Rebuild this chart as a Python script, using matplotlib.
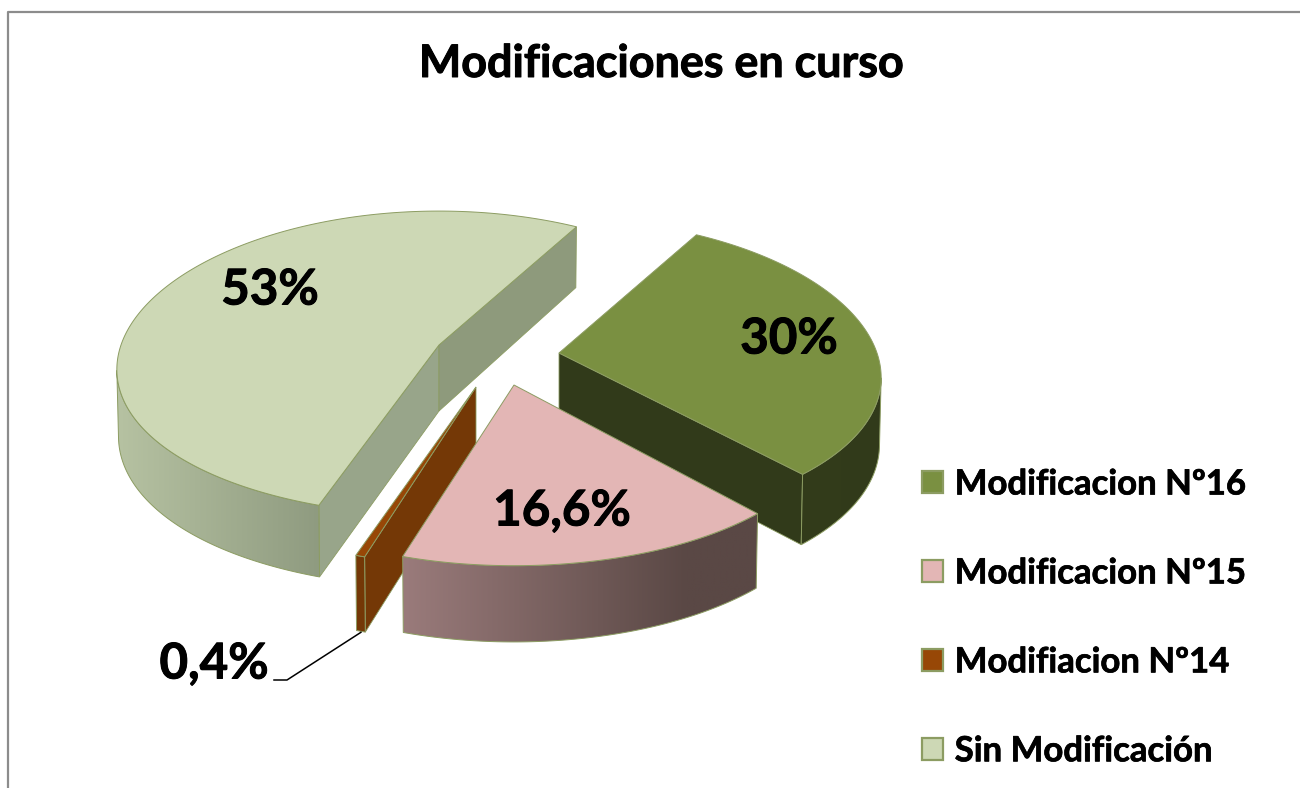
import matplotlib
matplotlib.use('Agg')
import matplotlib.pyplot as plt
import matplotlib.patheffects as pe
import numpy as np
from matplotlib.colors import to_rgb
from matplotlib.patches import Patch, Polygon

plt.rcParams['font.family'] = ['Lato', 'DejaVu Sans']
plt.rcParams['font.weight'] = 'bold'

title = 'Modificaciones en curso'
names = ['Modificacion Nº16', 'Modificacion Nº15', 'Modifiacion Nº14', 'Sin Modificación']
values = [30, 16.6, 0.4, 53]
value_labels = ['30%', '16,6%', '0,4%', '53%']

top_colors = ['#7A9041', '#E3B6B5', '#974706', '#CDD8B5']
radial_colors = ['#313A1A', '#5A4644', '#743806', '#98A58A']
second_radial = '#8E9A7C'
wall_left = ['#333C1B', '#9A7B7B', '#743806', '#B6C2A2']
wall_right = ['#313A1A', '#5A4845', '#743806', '#8F9B80']
wall_span = [1.0, 0.8, 1.0, 1.0]
edge_color = '#8C9C62'

# screen position of each slice's apex (explosion) and how near it looks
apex = [(559, 353), (514, 385), (476, 387), (439, 345)]
near = [1.0, 1.06, 1.05, 1.0]
label_pos = [(789, 339), (562, 511), (214, 664), (270, 290)]
start_angle = 29.5  # clockwise from the back of the pie

RX, RY, KX, KY, DEPTH, DEPTH_PERSP = 318, 150, 0.16, 0.12, 66, 0.005


def project(i, theta, z=0.0):
    # theta in degrees, clockwise seen from above, 0 is the far side
    u = np.sin(np.radians(theta))
    v = -np.cos(np.radians(theta))
    x = RX * u / (1 - KX * v + DEPTH_PERSP * z)
    y = RY * near[i] * v / (1 - KY * v)
    d = DEPTH * near[i] * (1 + 0.09 * v) * z
    return apex[i][0] + x, apex[i][1] + y + d


def draw_slice(ax, i, t0, t1):
    c = apex[i]
    bottom_c = (c[0], c[1] + DEPTH * near[i])

    # radial cut faces that look towards the viewer
    for edge, normal in [(t0, t0 - 90), (t1, t1 + 90)]:
        if -np.cos(np.radians(normal)) > 0:
            col = radial_colors[i]
            if i == 3 and edge == t1:
                col = second_radial
            p = [c, project(i, edge), project(i, edge, 1), bottom_c]
            ax.add_patch(Polygon(p, fc=col, ec=edge_color, lw=0.6))

    # outer wall with a horizontal gradient, clipped to its outline;
    # it runs between the left and right extremes of the rim
    circle = np.arange(0, 360, 0.25)
    cx, _ = project(i, circle)
    right_t, left_t = circle[np.argmax(cx)], circle[np.argmin(cx)]
    grid = np.linspace(t0, t1, max(int((t1 - t0) * 2), 2))
    grid = grid[(grid % 360 >= right_t) & (grid % 360 <= left_t)]
    if len(grid) > 1:
        xt, yt = project(i, grid)
        xb, yb = project(i, grid, 1)
        outline = np.vstack([np.column_stack([xt, yt]), np.column_stack([xb, yb])[::-1]])
        left, right = np.array(to_rgb(wall_left[i])), np.array(to_rgb(wall_right[i]))
        f = np.clip(np.linspace(0, 1, 256) / wall_span[i], 0, 1)[None, :, None]
        grad = left + (right - left) * f
        x0, x1 = min(xt.min(), xb.min()), max(xt.max(), xb.max())
        im = ax.imshow(grad, extent=(x0, x1, yb.max() + 2, yt.min() - 2), aspect='auto',
                       interpolation='bilinear', zorder=1)
        wall = Polygon(outline, fc='none', ec=edge_color, lw=0.7, zorder=1)
        ax.add_patch(wall)
        im.set_clip_path(wall)

    # top face
    t = np.linspace(t0, t1, max(int((t1 - t0) * 2), 2))
    x, y = project(i, t)
    top = np.vstack([[c], np.column_stack([x, y])])
    ax.add_patch(Polygon(top, fc=top_colors[i], ec=edge_color, lw=0.7, zorder=1))


fig = plt.figure(figsize=(13, 7.88), dpi=100)
ax = fig.add_axes([0, 0, 1, 1])
ax.axis('off')

# chart frame
ax.plot([8, 8, 1300], [788, 12, 12], color='#8C8C8C', lw=1.6)

sweep = np.array(values) / sum(values) * 360
starts = start_angle + np.concatenate([[0], np.cumsum(sweep)[:-1]])

# painter's order: back slice first, pink goes over brown and green
for i in [3, 0, 2, 1]:
    draw_slice(ax, i, starts[i], starts[i] + sweep[i])

ax.set_xlim(0, 1300)
ax.set_ylim(788, 0)

heavy = [pe.withStroke(linewidth=0.7, foreground='black')]

for i, lab in enumerate(value_labels):
    ax.text(label_pos[i][0], label_pos[i][1], lab, fontsize=35.5, ha='center', va='center',
            color='black', path_effects=heavy)

# leader line of the small slice
end = project(2, starts[2] + sweep[2] / 2, 1)
ax.plot([274, 287, end[0]], [680, 680, end[1] + 1], color='black', lw=1.1, zorder=3)

ax.text(661, 64, title, fontsize=32.3, ha='center', va='center', color='black', path_effects=heavy)

handles = [Patch(fc=top_colors[i], ec=edge_color, lw=1.6) for i in range(4)]
leg = ax.legend(handles, names, loc='upper left', bbox_to_anchor=(0.709, 0.4055), frameon=False,
                fontsize=25, handlelength=0.6, handleheight=0.6, handletextpad=0.35, labelspacing=1.64,
                borderpad=0, borderaxespad=0)
for t in leg.get_texts():
    t.set_path_effects([pe.withStroke(linewidth=0.5, foreground='black')])

fig.savefig('out.png', dpi=100)
